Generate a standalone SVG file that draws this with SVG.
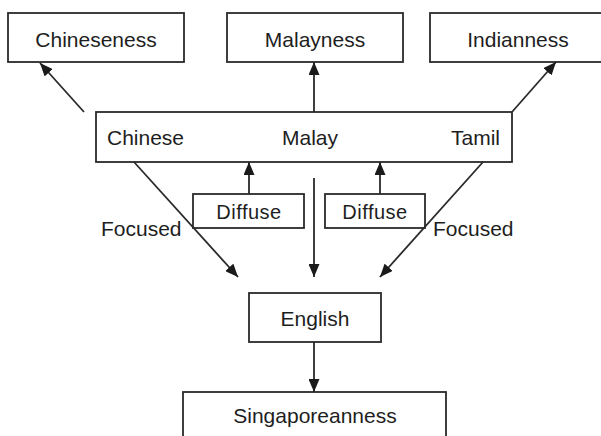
<svg xmlns="http://www.w3.org/2000/svg" width="601" height="436" viewBox="0 0 601 436">
<style>
rect{fill:#fff;stroke:#2a2a2a;stroke-width:1.8}
text{font-family:"Liberation Sans",Arial,sans-serif;font-size:21px;fill:#1e1e1e}
.c{text-anchor:middle}
.d{font-size:20px;letter-spacing:0.5px}
#connectors line{stroke:#2a2a2a;stroke-width:1.8;fill:none}
</style>
<defs>
<marker id="ah" viewBox="0 0 13 11" refX="13" refY="5.5" markerWidth="13" markerHeight="11" markerUnits="userSpaceOnUse" orient="auto">
<path d="M0,0 L13,5.5 L0,11 z" fill="#1a1a1a"/>
</marker>
</defs>
<rect x="0" y="0" width="601" height="436" style="fill:#fff;stroke:none"/>
<g id="chineseness"><rect x="8" y="13" width="176" height="49"/><text class="c" x="96" y="47">Chineseness</text></g>
<g id="malayness"><rect x="227" y="13" width="176" height="49"/><text class="c" x="315" y="47">Malayness</text></g>
<g id="indianness"><rect x="430" y="13" width="176" height="49"/><text class="c" x="518" y="47">Indianness</text></g>
<g id="ethnic"><rect x="96" y="112" width="416" height="50"/>
<text x="107" y="145">Chinese</text><text class="c" x="310" y="145">Malay</text><text x="500" y="145" text-anchor="end">Tamil</text></g>
<g id="diffuse-left"><rect x="193" y="194" width="111" height="34"/><text class="c d" x="249" y="219">Diffuse</text></g>
<g id="diffuse-right"><rect x="325" y="194" width="100" height="34"/><text class="c d" x="375" y="219">Diffuse</text></g>
<g id="focused-left"><text x="101" y="236">Focused</text></g>
<g id="focused-right"><text x="433" y="236">Focused</text></g>
<g id="english"><rect x="249" y="293" width="132" height="49"/><text class="c" x="315" y="326">English</text></g>
<g id="singaporeanness"><rect x="183" y="392" width="263" height="60"/><text class="c" x="315" y="423">Singaporeanness</text></g>
<g id="connectors">
<line x1="84" y1="112" x2="40" y2="63" marker-end="url(#ah)"/>
<line x1="314" y1="112" x2="314" y2="62" marker-end="url(#ah)"/>
<line x1="512" y1="112" x2="556" y2="62" marker-end="url(#ah)"/>
<line x1="249" y1="194" x2="249" y2="162" marker-end="url(#ah)"/>
<line x1="380" y1="194" x2="380" y2="162" marker-end="url(#ah)"/>
<line x1="314" y1="178" x2="314" y2="277" marker-end="url(#ah)"/>
<line x1="134" y1="162" x2="238" y2="277" marker-end="url(#ah)"/>
<line x1="483" y1="162" x2="380" y2="277" marker-end="url(#ah)"/>
<line x1="314" y1="342" x2="314" y2="392" marker-end="url(#ah)"/>
</g>
</svg>
